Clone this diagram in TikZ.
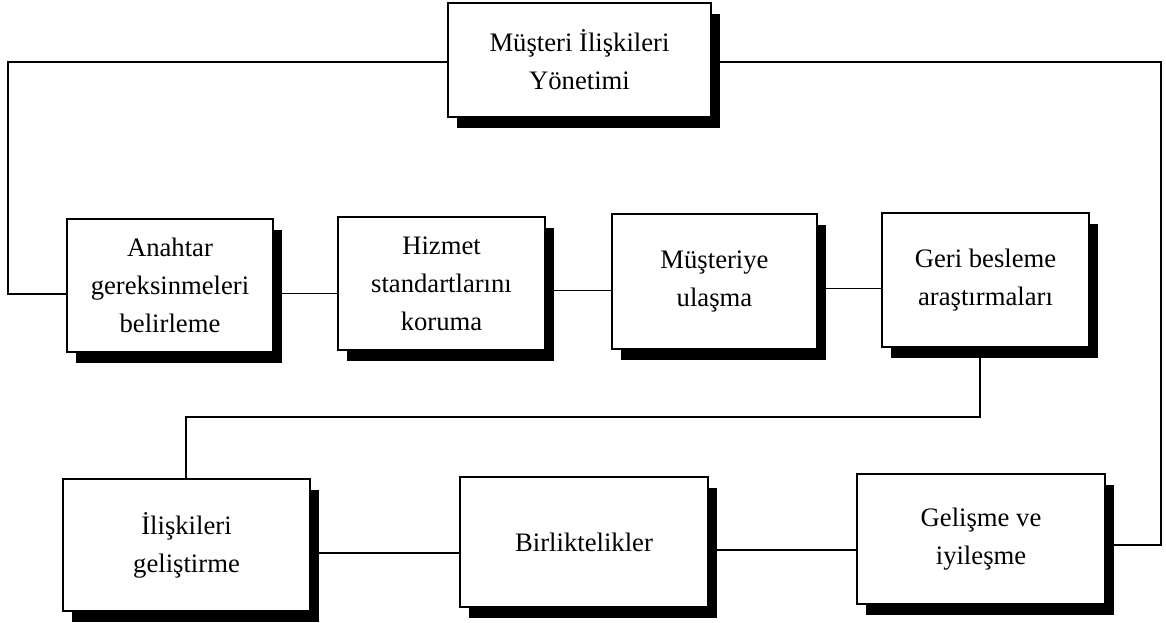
\documentclass[tikz,border=0pt]{standalone}
\usepackage{fontspec}
\setmainfont{Liberation Serif}
\usetikzlibrary{shadows}
\begin{document}
\begin{tikzpicture}[x=0.75pt,y=-0.75pt,
  box/.style={draw, line width=1.4pt, fill=white, align=center, inner sep=0pt,
    font=\fontsize{20}{28.5}\selectfont,
    drop shadow={shadow xshift=7pt, shadow yshift=-8.5pt, fill=black, opacity=1}},
  link/.style={line width=0.9pt}]
\useasboundingbox (0,0) rectangle (1166,623);
\fill[white] (0,0) rectangle (1166,623);

% corner points of the routed connectors
\coordinate (L1) at (8,62);
\coordinate (L2) at (8,294);
\coordinate (R1) at (1161,62);
\coordinate (R2) at (1161,545);
\coordinate (M1) at (980,417);
\coordinate (M2) at (186,417);

% boxes
\node[box, minimum width=197.25pt, minimum height=85.5pt] (top) at (579.5,60)
  {Müşteri İlişkileri\\Yönetimi};
\node[box, minimum width=154.5pt, minimum height=99.75pt] (anahtar) at (170,285.5)
  {Anahtar\\gereksinmeleri\\belirleme};
\node[box, minimum width=155.25pt, minimum height=99.75pt] (hizmet) at (441.5,283.5)
  {Hizmet\\standartlarını\\koruma};
\node[box, minimum width=153.75pt, minimum height=101.25pt] (musteriye) at (714.5,281.5)
  {Müşteriye\\ulaşma};
\node[box, minimum width=155.25pt, minimum height=100.5pt] (geri) at (985.5,280)
  {Geri besleme\\araştırmaları};
\node[box, minimum width=185.25pt, minimum height=99pt] (iliski) at (186.5,545)
  {İlişkileri\\geliştirme};
\node[box, minimum width=186pt, minimum height=97.5pt] (birlik) at (584,542)
  {Birliktelikler};
\node[box, minimum width=186pt, minimum height=97.5pt] (gelisme) at (981,539)
  {Gelişme ve\\iyileşme};

% connectors
\draw[link] (top.west |- L1) -- (L1) -- (L2) -- (L2 -| anahtar.west);
\draw[link] (top.east |- R1) -- (R1) -- (R2) -- (R2 -| gelisme.east);
\draw[link] ([yshift=-6pt]anahtar.east) -- ([yshift=-6pt]anahtar.east -| hizmet.west);
\draw[link] ([yshift=-5.5pt]hizmet.east) -- ([yshift=-5.5pt]hizmet.east -| musteriye.west);
\draw[link] ([yshift=-5.5pt]musteriye.east) -- ([yshift=-5.5pt]musteriye.east -| geri.west);
\draw[link] (geri.south -| M1) -- (M1) -- (M2) -- (M2 |- iliski.north);
\draw[link] ([yshift=-6pt]iliski.east) -- ([yshift=-6pt]iliski.east -| birlik.west);
\draw[link] ([yshift=-6pt]birlik.east) -- ([yshift=-6pt]birlik.east -| gelisme.west);
\end{tikzpicture}
\end{document}
